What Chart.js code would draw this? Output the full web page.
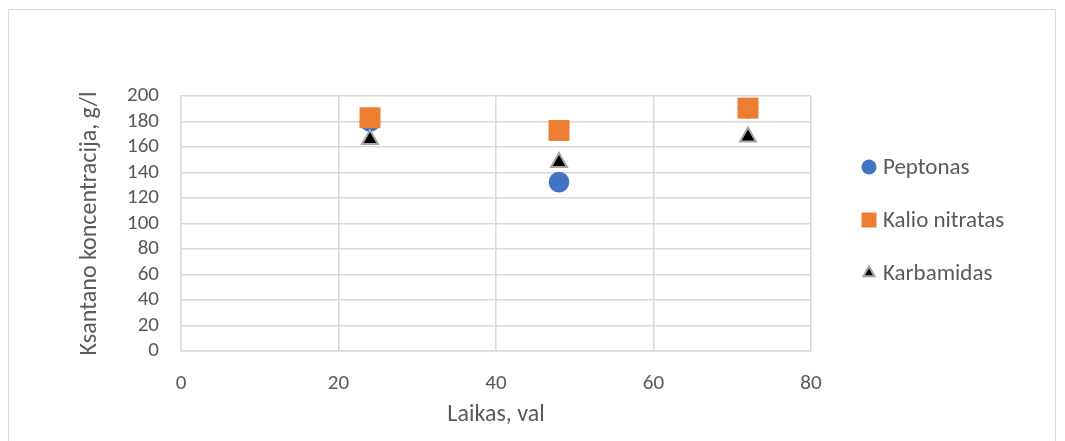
<!DOCTYPE html>
<html>
<head>
<meta charset="utf-8">
<script src="https://cdn.jsdelivr.net/npm/chart.js@4/dist/chart.umd.min.js"></script>
<style>
  html, body { margin: 0; padding: 0; background: #ffffff; }
  #wrap { position: absolute; left: 0; top: 0; width: 1065px; height: 441px; }
  #frame { position: absolute; left: 8px; top: 9px; width: 1048px; height: 440px; border: 1px solid #d9d9d9; box-sizing: border-box; pointer-events: none; }
</style>
</head>
<body>
<div id="wrap"><canvas id="c" width="1065" height="441"></canvas></div>
<div id="frame"></div>
<script>
// Fermentation time, hours
const hours = [24, 48, 72];
// Xanthan concentration (g/l) per nitrogen source
const peptonas = [180, 132.5, 190.5];
const kalioNitratas = [183, 173, 190.5];
const karbamidas = [166, 148, 168];

const xTicks = [0, 20, 40, 60, 80];
const yTicks = [0, 20, 40, 60, 80, 100, 120, 140, 160, 180, 200];

const FONT = "Carlito, Calibri, Lato, sans-serif";
const TEXT = '#595959';
const GRID = '#d9d9d9';

// Plot box edges in canvas pixels
const PLOT_LEFT = 181, PLOT_BOTTOM_GAP = 90;

const pts = (vals) => hours.map((h, i) => ({ x: h, y: vals[i] }));

const datasets = [
  { label: 'Peptonas', data: pts(peptonas), pointStyle: 'circle', pointRadius: 10.4,
    backgroundColor: '#4472c4', borderColor: '#4472c4', borderWidth: 0, order: 2,
    legendRadius: 7.5 },
  { label: 'Kalio nitratas', data: pts(kalioNitratas), pointStyle: 'rect', pointRadius: 14.8,
    backgroundColor: '#ed7d31', borderColor: '#ed7d31', borderWidth: 0, order: 1,
    legendRadius: 10.6 },
  { label: 'Karbamidas', data: pts(karbamidas), pointStyle: 'triangle', pointRadius: 9.2,
    backgroundColor: '#000000', borderColor: '#a5a5a5', borderWidth: 2, order: 0,
    legendRadius: 6.5 }
];

// Legend drawn on the right, one entry per series
const sideLegend = {
  id: 'sideLegend',
  afterDraw(chart) {
    const ctx = chart.ctx;
    const x0 = 869, rows = [167, 220, 273];
    ctx.save();
    ctx.font = '23px ' + FONT;
    ctx.textBaseline = 'middle';
    ctx.textAlign = 'left';
    chart.data.datasets.forEach((ds, i) => {
      ctx.fillStyle = ds.backgroundColor;
      ctx.strokeStyle = ds.borderColor;
      ctx.lineWidth = ds.borderWidth;
      Chart.helpers.drawPoint(ctx, {
        pointStyle: ds.pointStyle, radius: ds.legendRadius, rotation: 0,
        borderWidth: ds.borderWidth
      }, x0, rows[i]);
      ctx.fillStyle = TEXT;
      ctx.fillText(ds.label, x0 + 14, rows[i] + 1);
    });
    ctx.restore();
  }
};

new Chart(document.getElementById('c'), {
  type: 'scatter',
  data: { datasets },
  plugins: [sideLegend],
  options: {
    responsive: false,
    animation: false,
    events: [],
    layout: { padding: { left: 0, right: 254, top: 96, bottom: 0 } },
    plugins: { legend: { display: false }, tooltip: { enabled: false } },
    scales: {
      x: {
        type: 'linear', min: 0, max: 80,
        afterBuildTicks: (s) => { s.ticks = xTicks.map(v => ({ value: v })); },
        afterFit: (s) => { s.height = PLOT_BOTTOM_GAP; },
        grid: { color: GRID, lineWidth: 1.5, drawTicks: false },
        border: { color: GRID, width: 1.5 },
        ticks: { color: TEXT, font: { family: FONT, size: 21 }, padding: 20, autoSkip: false, maxRotation: 0 },
        title: { display: true, text: 'Laikas, val', color: TEXT,
                 font: { family: FONT, size: 24 }, padding: { top: 0, bottom: 12 } }
      },
      y: {
        type: 'linear', min: 0, max: 200,
        afterBuildTicks: (s) => { s.ticks = yTicks.map(v => ({ value: v })); },
        afterFit: (s) => { s.width = PLOT_LEFT; },
        grid: { color: GRID, lineWidth: 1.5, drawTicks: false },
        border: { color: GRID, width: 1.5 },
        ticks: { color: TEXT, font: { family: FONT, size: 21 }, padding: 22, autoSkip: false },
        title: { display: true, text: 'Ksantano koncentracija, g/l', color: TEXT,
                 font: { family: FONT, size: 24 }, padding: { top: 76, bottom: 0 } }
      }
    }
  }
});
</script>
</body>
</html>
